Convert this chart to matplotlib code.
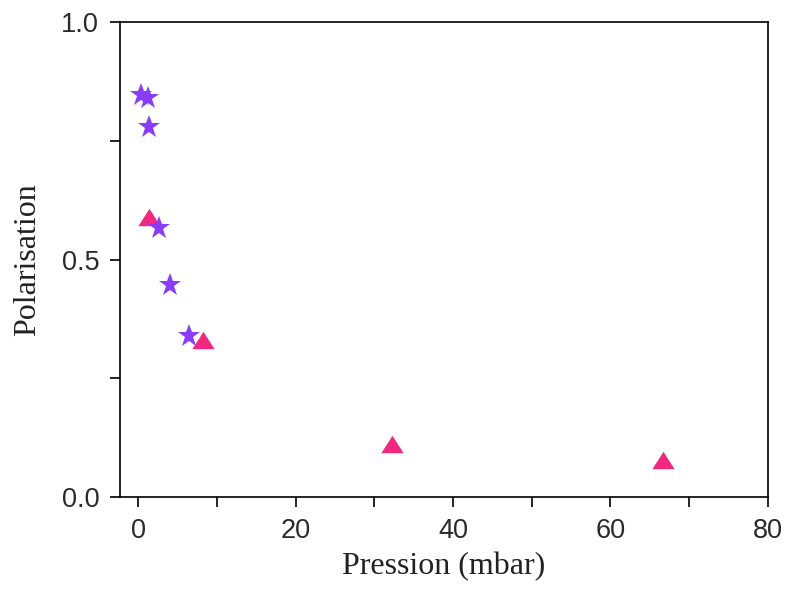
import matplotlib
matplotlib.use("Agg")
import matplotlib.pyplot as plt
from matplotlib.ticker import MultipleLocator

# Stars (purple series)
star_p = [0.4, 1.3, 1.4, 2.7, 4.1, 6.5]
star_pol = [0.846, 0.840, 0.779, 0.566, 0.446, 0.339]

# Triangles (pink series)
tri_p = [1.4, 8.3, 32.3, 66.7]
tri_pol = [0.590, 0.330, 0.112, 0.078]

x_ticks = [0, 20, 40, 60, 80]
y_ticks = [0.0, 0.5, 1.0]

fig = plt.figure(figsize=(7.85, 5.91), dpi=100)
ax = fig.add_axes([0.1529, 0.159, 0.8251, 0.8038])

tri_marker = [(-1, -0.78), (1, -0.78), (0, 0.78)]

ax.plot(tri_p, tri_pol, linestyle="none", marker=tri_marker, markersize=16,
        color="#f0287f", markeredgewidth=0)
ax.plot(star_p, star_pol, linestyle="none", marker="*", markersize=17,
        color="#8b3cf7", markeredgewidth=0)

ax.set_xlim(-2.3, 80)
ax.set_ylim(0, 1.0)
ax.set_xticks(x_ticks)
ax.set_yticks(y_ticks)
ax.set_yticklabels(["0.0", "0.5", "1.0"])
ax.xaxis.set_minor_locator(MultipleLocator(10))
ax.yaxis.set_minor_locator(MultipleLocator(0.25))

ax.tick_params(axis="both", which="both", direction="out", length=7, width=1.2,
               top=False, right=False, pad=8)
ax.tick_params(axis="both", which="major", labelsize=19.5, labelcolor="#2a2a2a")
for lbl in ax.get_xticklabels() + ax.get_yticklabels():
    lbl.set_family("Liberation Sans")

for s in ax.spines.values():
    s.set_linewidth(1.2)

ax.set_xlabel("Pression (mbar)", family="Liberation Serif", fontsize=23, labelpad=6,
              color="#222222")
ax.set_ylabel("Polarisation", family="Liberation Serif", fontsize=23, labelpad=14,
              color="#222222")

fig.savefig("out.png", dpi=100)
